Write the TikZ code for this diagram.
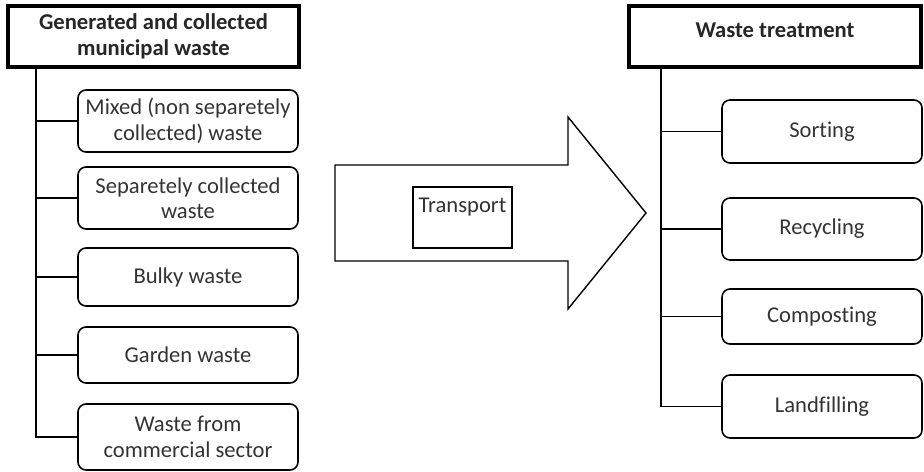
\documentclass[tikz,border=0pt]{standalone}
\usepackage{fontspec}
\setmainfont{Carlito}[Ligatures=NoCommon]
\usetikzlibrary{calc}

\begin{document}
\begin{tikzpicture} [x=.5pt, y=-.5pt,
  hdr/.style={draw, line width=2pt, align=center, inner sep=2pt, minimum height=30.5pt,
    font=\fontsize{11.3}{12.9}\selectfont\bfseries, text=black!85},
  leaf/.style={draw, line width=.8pt, rounded corners=4pt, align=center, inner sep=2pt,
    minimum height=31pt, font=\fontsize{11.3}{12.7}\selectfont, text=black!80},
  conn/.style={line width=.75pt}]
\useasboundingbox (0,0) rectangle (924,471);
% source side
\node[hdr, minimum width=145.5pt] (genhdr) at (153.5,36.5) {Generated and collected\\municipal waste};
\coordinate (ltrunk) at (36,0);
\node[leaf, minimum width=110pt] (mixed)  at (188,121) {Mixed (non separetely\\collected) waste};
\node[leaf, minimum width=110pt] (sepcol) at (188,198) {Separetely collected\\waste};
\node[leaf, minimum width=110pt, minimum height=29pt] (bulky)  at (188,277) {Bulky waste};
\node[leaf, minimum width=110pt, minimum height=28pt] (garden) at (188,355) {Garden waste};
\node[leaf, minimum width=110pt, minimum height=33pt] (commer) at (188,437) {Waste from\\commercial sector};
\foreach \b in {mixed,sepcol,bulky,garden}
 \draw[conn] (\b.west) -- (\b.west -| ltrunk);
\draw[conn] (genhdr.south -| ltrunk) |- (commer.west);
% big arrow
\draw[line width=.7pt] (335,165) -- (568,165) -- (568,117) -- (646,213) -- (568,309) -- (568,261) -- (335,261) -- cycle;
\node[draw, line width=.7pt, minimum width=49.5pt, minimum height=30.5pt, inner sep=1pt,
  text height=7.5pt, text depth=13pt, font=\fontsize{11.3}{12.7}\selectfont, text=black!80] (transp) at (462.5,217.5) {Transport};
% treatment side
\node[hdr, minimum width=146pt, text height=7.5pt, text depth=7pt] (treathdr) at (775,36.5) {Waste treatment};
\coordinate (rtrunk) at (661,0);
\node[leaf, minimum width=100pt, minimum height=31.5pt] (sort)  at (822,131.5) {Sorting};
\node[leaf, minimum width=100pt] (recyc) at (822,229) {Recycling};
\node[leaf, minimum width=100pt, minimum height=27.5pt] (compo) at (822,316.5) {Composting};
\node[leaf, minimum width=100pt, minimum height=31.5pt] (landf) at (822,406.5) {Landfilling};
\foreach \b in {sort,recyc,compo}
 \draw[conn] (\b.west) -- (\b.west -| rtrunk);
\draw[conn] (treathdr.south -| rtrunk) |- (landf.west);
\end{tikzpicture}
\end{document}
